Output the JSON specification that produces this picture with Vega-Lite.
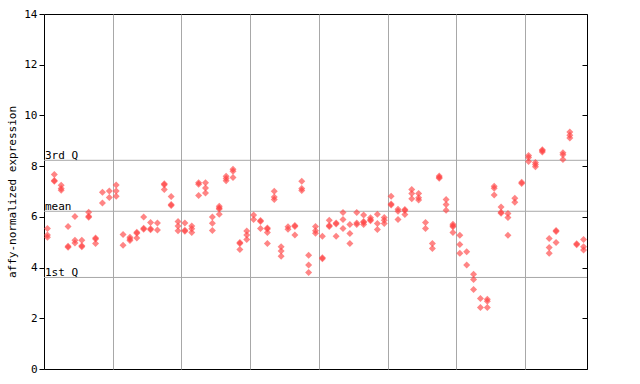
{
  "$schema": "https://vega.github.io/schema/vega-lite/v6.json",
  "width": 543,
  "height": 355,
  "autosize": {"type": "none"},
  "padding": {"left": 44, "top": 14, "right": 53, "bottom": 15},
  "background": "white",
  "config": {"view": {"stroke": "black", "strokeWidth": 1}, "font": "DejaVu Sans Mono"},
  "datasets": {
    "refs": [
      {"q": "3rd Q", "v": 8.23},
      {"q": "mean", "v": 6.22},
      {"q": "1st Q", "v": 3.61}
    ],
    "pts": [
      {"s": 0, "v": 5.54}, {"s": 0, "v": 5.28}, {"s": 0, "v": 5.20},
      {"s": 1, "v": 7.67}, {"s": 1, "v": 7.43}, {"s": 1, "v": 7.40},
      {"s": 2, "v": 7.25}, {"s": 2, "v": 7.12}, {"s": 2, "v": 7.05},
      {"s": 3, "v": 5.62}, {"s": 3, "v": 4.84}, {"s": 3, "v": 4.80},
      {"s": 4, "v": 6.01}, {"s": 4, "v": 5.08}, {"s": 4, "v": 4.97},
      {"s": 5, "v": 5.08}, {"s": 5, "v": 4.86}, {"s": 5, "v": 4.82},
      {"s": 6, "v": 6.18}, {"s": 6, "v": 6.02}, {"s": 6, "v": 5.98},
      {"s": 7, "v": 5.17}, {"s": 7, "v": 5.13}, {"s": 7, "v": 4.95},
      {"s": 8, "v": 6.97}, {"s": 8, "v": 6.55},
      {"s": 9, "v": 7.02}, {"s": 9, "v": 6.76},
      {"s": 10, "v": 7.26}, {"s": 10, "v": 7.02}, {"s": 10, "v": 6.81},
      {"s": 11, "v": 5.30}, {"s": 11, "v": 4.88},
      {"s": 12, "v": 5.20}, {"s": 12, "v": 5.13}, {"s": 12, "v": 5.07},
      {"s": 13, "v": 5.39}, {"s": 13, "v": 5.35}, {"s": 13, "v": 5.17},
      {"s": 14, "v": 5.99}, {"s": 14, "v": 5.55}, {"s": 14, "v": 5.51},
      {"s": 15, "v": 5.78}, {"s": 15, "v": 5.53}, {"s": 15, "v": 5.49},
      {"s": 16, "v": 5.76}, {"s": 16, "v": 5.48},
      {"s": 17, "v": 7.31}, {"s": 17, "v": 7.27}, {"s": 17, "v": 7.08},
      {"s": 18, "v": 6.80}, {"s": 18, "v": 6.49}, {"s": 18, "v": 6.45},
      {"s": 19, "v": 5.82}, {"s": 19, "v": 5.64}, {"s": 19, "v": 5.45},
      {"s": 20, "v": 5.76}, {"s": 20, "v": 5.47}, {"s": 20, "v": 5.43},
      {"s": 21, "v": 5.64}, {"s": 21, "v": 5.53}, {"s": 21, "v": 5.38},
      {"s": 22, "v": 7.35}, {"s": 22, "v": 7.29}, {"s": 22, "v": 6.84},
      {"s": 23, "v": 7.35}, {"s": 23, "v": 7.14}, {"s": 23, "v": 6.94},
      {"s": 24, "v": 5.99}, {"s": 24, "v": 5.75}, {"s": 24, "v": 5.46},
      {"s": 25, "v": 6.42}, {"s": 25, "v": 6.35}, {"s": 25, "v": 6.31}, {"s": 25, "v": 6.10},
      {"s": 26, "v": 7.60}, {"s": 26, "v": 7.51}, {"s": 26, "v": 7.42},
      {"s": 27, "v": 7.88}, {"s": 27, "v": 7.80}, {"s": 27, "v": 7.55},
      {"s": 28, "v": 4.99}, {"s": 28, "v": 4.95}, {"s": 28, "v": 4.71},
      {"s": 29, "v": 5.44}, {"s": 29, "v": 5.28}, {"s": 29, "v": 5.11},
      {"s": 30, "v": 6.07}, {"s": 30, "v": 5.90},
      {"s": 31, "v": 5.86}, {"s": 31, "v": 5.82}, {"s": 31, "v": 5.54},
      {"s": 32, "v": 5.56}, {"s": 32, "v": 5.52}, {"s": 32, "v": 5.38}, {"s": 32, "v": 4.95},
      {"s": 33, "v": 7.01}, {"s": 33, "v": 6.78}, {"s": 33, "v": 6.68},
      {"s": 34, "v": 4.82}, {"s": 34, "v": 4.65}, {"s": 34, "v": 4.45},
      {"s": 35, "v": 5.61}, {"s": 35, "v": 5.51},
      {"s": 36, "v": 5.66}, {"s": 36, "v": 5.62}, {"s": 36, "v": 5.28},
      {"s": 37, "v": 7.40}, {"s": 37, "v": 7.12}, {"s": 37, "v": 7.04},
      {"s": 38, "v": 4.49}, {"s": 38, "v": 4.10}, {"s": 38, "v": 3.81},
      {"s": 39, "v": 5.62}, {"s": 39, "v": 5.45}, {"s": 39, "v": 5.35},
      {"s": 40, "v": 5.24}, {"s": 40, "v": 4.39}, {"s": 40, "v": 4.35},
      {"s": 41, "v": 5.87}, {"s": 41, "v": 5.66}, {"s": 41, "v": 5.62},
      {"s": 42, "v": 5.76}, {"s": 42, "v": 5.72}, {"s": 42, "v": 5.24},
      {"s": 43, "v": 6.17}, {"s": 43, "v": 5.90}, {"s": 43, "v": 5.54},
      {"s": 44, "v": 5.70}, {"s": 44, "v": 5.34}, {"s": 44, "v": 4.95},
      {"s": 45, "v": 6.17}, {"s": 45, "v": 5.76}, {"s": 45, "v": 5.70},
      {"s": 46, "v": 6.07}, {"s": 46, "v": 5.82}, {"s": 46, "v": 5.78}, {"s": 46, "v": 5.70},
      {"s": 47, "v": 5.96}, {"s": 47, "v": 5.89}, {"s": 47, "v": 5.85},
      {"s": 48, "v": 6.10}, {"s": 48, "v": 5.74}, {"s": 48, "v": 5.50},
      {"s": 49, "v": 5.97}, {"s": 49, "v": 5.87}, {"s": 49, "v": 5.74},
      {"s": 50, "v": 6.81}, {"s": 50, "v": 6.51}, {"s": 50, "v": 6.47},
      {"s": 51, "v": 6.30}, {"s": 51, "v": 6.22}, {"s": 51, "v": 5.90},
      {"s": 52, "v": 6.29}, {"s": 52, "v": 6.25}, {"s": 52, "v": 6.09},
      {"s": 53, "v": 7.08}, {"s": 53, "v": 6.92}, {"s": 53, "v": 6.71},
      {"s": 54, "v": 6.92}, {"s": 54, "v": 6.75}, {"s": 54, "v": 6.66},
      {"s": 55, "v": 5.78}, {"s": 55, "v": 5.54},
      {"s": 56, "v": 4.95}, {"s": 56, "v": 4.75},
      {"s": 57, "v": 7.61}, {"s": 57, "v": 7.56}, {"s": 57, "v": 7.52},
      {"s": 58, "v": 6.68}, {"s": 58, "v": 6.49}, {"s": 58, "v": 6.26},
      {"s": 59, "v": 5.71}, {"s": 59, "v": 5.65}, {"s": 59, "v": 5.61}, {"s": 59, "v": 5.38},
      {"s": 60, "v": 5.27}, {"s": 60, "v": 4.91}, {"s": 60, "v": 4.56},
      {"s": 61, "v": 4.62}, {"s": 61, "v": 4.10},
      {"s": 62, "v": 3.74}, {"s": 62, "v": 3.53}, {"s": 62, "v": 3.14},
      {"s": 63, "v": 2.78}, {"s": 63, "v": 2.43},
      {"s": 64, "v": 2.75}, {"s": 64, "v": 2.67}, {"s": 64, "v": 2.43},
      {"s": 65, "v": 7.21}, {"s": 65, "v": 7.13}, {"s": 65, "v": 6.86},
      {"s": 66, "v": 6.39}, {"s": 66, "v": 6.18}, {"s": 66, "v": 6.14},
      {"s": 67, "v": 6.13}, {"s": 67, "v": 5.97}, {"s": 67, "v": 5.27},
      {"s": 68, "v": 6.73}, {"s": 68, "v": 6.58},
      {"s": 69, "v": 7.36}, {"s": 69, "v": 7.32},
      {"s": 70, "v": 8.42}, {"s": 70, "v": 8.34}, {"s": 70, "v": 8.18},
      {"s": 71, "v": 8.14}, {"s": 71, "v": 8.06}, {"s": 71, "v": 7.98},
      {"s": 72, "v": 8.65}, {"s": 72, "v": 8.61}, {"s": 72, "v": 8.56},
      {"s": 73, "v": 5.15}, {"s": 73, "v": 4.79}, {"s": 73, "v": 4.56},
      {"s": 74, "v": 5.46}, {"s": 74, "v": 5.42}, {"s": 74, "v": 4.99},
      {"s": 75, "v": 8.53}, {"s": 75, "v": 8.45}, {"s": 75, "v": 8.26},
      {"s": 76, "v": 9.35}, {"s": 76, "v": 9.22}, {"s": 76, "v": 9.11},
      {"s": 77, "v": 4.94}, {"s": 77, "v": 4.90},
      {"s": 78, "v": 5.11}, {"s": 78, "v": 4.82}, {"s": 78, "v": 4.69}
    ]
  },
  "layer": [
    {
      "data": {"name": "refs"},
      "mark": {"type": "rule", "color": "#a8a8a8", "strokeWidth": 1},
      "encoding": {
        "y": {
          "field": "v", "type": "quantitative",
          "scale": {"domain": [0, 14], "nice": false, "zero": false},
          "axis": {
            "orient": "left", "values": [0, 2, 4, 6, 8, 10, 12, 14],
            "grid": false, "domain": false, "tickSize": 5, "tickColor": "black",
            "labelFont": "DejaVu Sans Mono", "labelFontSize": 11, "labelColor": "black", "labelPadding": 2,
            "title": "affy-normalized expression", "titleFont": "DejaVu Sans Mono", "titleFontSize": 11,
            "titleFontWeight": "normal", "titleColor": "black", "titlePadding": 6
          }
        }
      }
    },
    {
      "data": {"name": "refs"},
      "mark": {"type": "text", "align": "left", "baseline": "alphabetic", "dx": 1, "dy": -1, "font": "DejaVu Sans Mono", "fontSize": 11, "color": "black"},
      "encoding": {
        "x": {
          "datum": -0.5, "type": "quantitative",
          "scale": {"domain": [-0.5, 78.5], "nice": false, "zero": false},
          "axis": {
            "values": [9.5, 19.5, 29.5, 39.5, 49.5, 59.5, 69.5],
            "grid": true, "gridColor": "#a8a8a8", "gridOpacity": 1, "labels": false, "ticks": false,
            "domain": false, "title": null
          }
        },
        "y": {"field": "v", "type": "quantitative", "axis": null},
        "text": {"field": "q"}
      }
    },
    {
      "data": {"name": "pts"},
      "mark": {"type": "point", "shape": "diamond", "filled": true, "size": 49, "color": "#ff4444", "opacity": 0.65, "strokeWidth": 0},
      "encoding": {
        "x": {
          "field": "s", "type": "quantitative",
          "axis": {
            "values": [9.5, 19.5, 29.5, 39.5, 49.5, 59.5, 69.5],
            "grid": true, "gridColor": "#a8a8a8", "gridOpacity": 1, "labels": false, "ticks": false,
            "domain": false, "title": null
          }
        },
        "y": {
          "field": "v", "type": "quantitative",
          "axis": {
            "orient": "right", "values": [0, 2, 4, 6, 8, 10, 12, 14],
            "grid": false, "domain": false, "labels": false, "tickSize": -5, "tickColor": "black", "title": null
          }
        }
      }
    }
  ],
  "resolve": {"axis": {"y": "independent"}}
}
